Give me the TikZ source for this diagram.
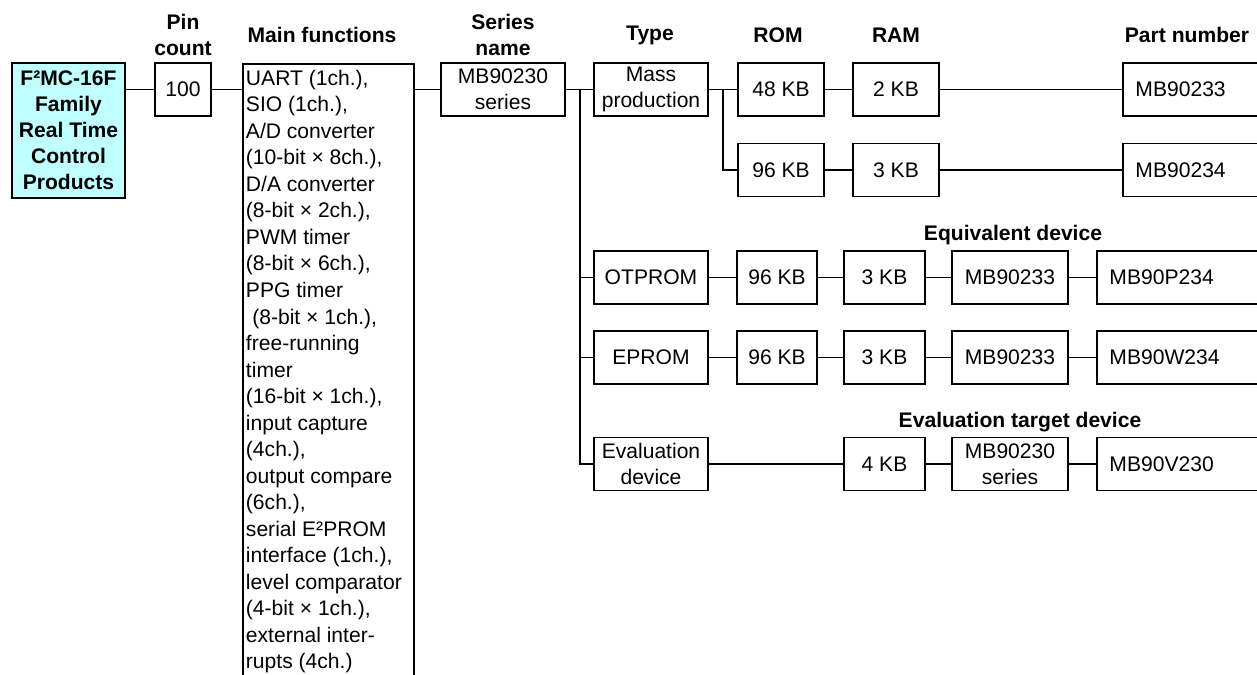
\documentclass[tikz,border=0pt]{standalone}
\usepackage{fontspec}
\setmainfont{Liberation Sans}
\usetikzlibrary{positioning}
\definecolor{famcyan}{RGB}{191,255,255}

\begin{document}
\begin{tikzpicture}[x=0.02cm,y=-0.02cm,
  txt/.style={font=\fontsize{12}{14.8}\selectfont},
  box/.style={txt,draw,line width=1.1pt,minimum height=1.06cm,inner sep=0pt,align=center},
  partbox/.style={box,anchor=west,text width=2.9cm,align=left,inner xsep=0.25cm},
  hdr/.style={align=center,font=\fontsize{12}{14.8}\selectfont\bfseries},
  wire/.style={line width=1.1pt}]
\useasboundingbox (0,0) rectangle (1257,675);
\clip (0,0) rectangle (1257,675);

\node[hdr] (hpin) at (183,35) {Pin\\count};
\node[hdr] (hfunc) at (322,35) {Main functions};
\node[hdr] (hser) at (503,35) {Series\\name};
\node[hdr] (htype) at (650,35) {Type};
\node[hdr] (hrom) at (778,35) {ROM};
\node[hdr] (hram) at (896,35) {RAM};
\node[hdr] (hpart) at (1187,35) {Part number};
\node[hdr] (hequiv) at (1013,235) {Equivalent device};
\node[hdr] (heval) at (1020,422) {Evaluation target device};

\node[box,fill=famcyan,minimum width=2.26cm,minimum height=2.7cm,font=\fontsize{12}{14.8}\selectfont\bfseries] (fam) at (68.5,130.5) {F²MC-16F\\Family\\Real Time\\Control\\Products};
\node[box,minimum width=1.12cm] (pin) at (183,89.5) {100};
\node[draw,line width=1.1pt,anchor=north west,inner xsep=0.06cm,inner ysep=0.12cm,font=\fontsize{12}{15.1}\selectfont] (func) at (242,63) {\parbox[t][13.5cm][t]{3.3cm}{\raggedright
UART (1ch.),\\
SIO (1ch.),\\
A/D converter\\
(10-bit × 8ch.),\\
D/A converter\\
(8-bit × 2ch.),\\
PWM timer\\
(8-bit × 6ch.),\\
PPG timer\\
\hspace*{0.3em}(8-bit × 1ch.),\\
free-running\\
timer\\
(16-bit × 1ch.),\\
input capture\\
(4ch.),\\
output compare\\
(6ch.),\\
serial E²PROM\\
interface (1ch.),\\
level comparator\\
(4-bit × 1ch.),\\
external inter-\\
rupts (4ch.)}};
\node[box,minimum width=2.48cm] (ser) at (503,89.5) {MB90230\\series};

\node[box,minimum width=2.28cm] (mass) at (651,89.5) {Mass\\production};
\node[box,minimum width=2.28cm] (otp) at (651,277.5) {OTPROM};
\node[box,minimum width=2.28cm] (eprom) at (651,357.5) {EPROM};
\node[box,minimum width=2.28cm] (evdev) at (651,464) {Evaluation\\device};

\node[box,minimum width=1.72cm] (rom1) at (781,89.5) {48 KB};
\node[box,minimum width=1.72cm] (ram1) at (896,89.5) {2 KB};
\node[partbox] (part1) at (1122,89.5) {MB90233};

\node[box,minimum width=1.72cm] (rom2) at (781,170) {96 KB};
\node[box,minimum width=1.72cm] (ram2) at (896,170) {3 KB};
\node[partbox] (part2) at (1122,170) {MB90234};

\node[box,minimum width=1.6cm] (rom3) at (777,277.5) {96 KB};
\node[box,minimum width=1.62cm] (ram3) at (884.5,277.5) {3 KB};
\node[box,minimum width=2.32cm] (eq3) at (1010,277.5) {MB90233};
\node[partbox] (part3) at (1096,277.5) {MB90P234};

\node[box,minimum width=1.6cm] (rom4) at (777,357.5) {96 KB};
\node[box,minimum width=1.62cm] (ram4) at (884.5,357.5) {3 KB};
\node[box,minimum width=2.32cm] (eq4) at (1010,357.5) {MB90233};
\node[partbox] (part4) at (1096,357.5) {MB90W234};

\node[box,minimum width=1.62cm] (ram5) at (884.5,464) {4 KB};
\node[box,minimum width=2.32cm] (eq5) at (1010,464) {MB90230\\series};
\node[partbox] (part5) at (1096,464) {MB90V230};

\draw[wire] (pin.west) -- (pin.west -| fam.east);
\draw[wire] (pin.east) -- (pin.east -| func.west);
\draw[wire] (ser.west) -- (ser.west -| func.east);
\draw[wire] (ser.east) -- (mass.west);
\coordinate (j1) at (580,89.5);
\draw[wire] (j1) |- (otp.west);
\draw[wire] (j1) |- (eprom.west);
\draw[wire] (j1) |- (evdev.west);
\draw[wire] (mass.east) -- (rom1.west);
\coordinate (j2) at (723,89.5);
\draw[wire] (j2) |- (rom2.west);

\draw[wire] (rom1.east) -- (ram1.west);
\draw[wire] (ram1.east) -- (part1.west);
\draw[wire] (rom2.east) -- (ram2.west);
\draw[wire] (ram2.east) -- (part2.west);
\draw[wire] (otp.east) -- (rom3.west);
\draw[wire] (rom3.east) -- (ram3.west);
\draw[wire] (ram3.east) -- (eq3.west);
\draw[wire] (eq3.east) -- (part3.west);
\draw[wire] (eprom.east) -- (rom4.west);
\draw[wire] (rom4.east) -- (ram4.west);
\draw[wire] (ram4.east) -- (eq4.west);
\draw[wire] (eq4.east) -- (part4.west);
\draw[wire] (evdev.east) -- (ram5.west);
\draw[wire] (ram5.east) -- (eq5.west);
\draw[wire] (eq5.east) -- (part5.west);
\end{tikzpicture}
\end{document}
